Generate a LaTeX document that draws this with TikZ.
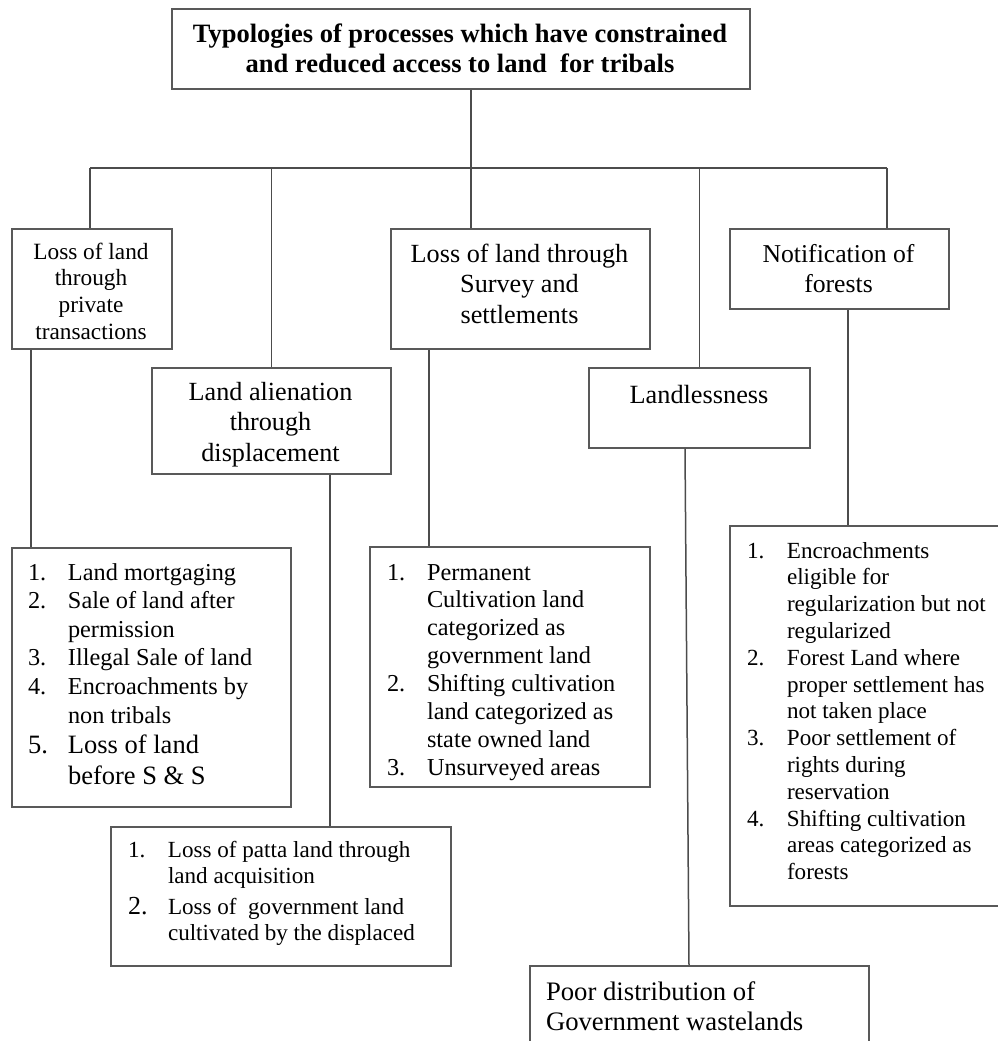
\documentclass[tikz,border=0pt]{standalone}
\usepackage{fontspec}
\setmainfont{Liberation Serif}
\newcommand\numlab[1]{\makebox[40pt][l]{#1}}
\newcommand\fs[2]{\fontsize{#1}{#2}\selectfont}
\begin{document}
\begin{tikzpicture}[x=1pt,y=-1pt,
  box/.style={draw=black!65,line width=1.6pt,fill=none,inner sep=0pt,anchor=north west},
  txt/.style={inner sep=0pt,outer sep=0pt,anchor=base},
  txtl/.style={inner sep=0pt,outer sep=0pt,anchor=base west},
  conn/.style={draw=black!70,line width=1.5pt}]
\useasboundingbox (0,0) rectangle (998,1041);
\clip (0,0) rectangle (998,1041);
\fill[white] (0,0) rectangle (998,1041);

% boxes
\node[box,minimum width=578pt,minimum height=80pt] (top) at (171,8) {};
\node[box,minimum width=160pt,minimum height=120pt] (b1) at (11,228) {};
\node[box,minimum width=239pt,minimum height=106pt] (b2) at (151,367) {};
\node[box,minimum width=259pt,minimum height=120pt] (b3) at (390,228) {};
\node[box,minimum width=221pt,minimum height=80pt] (b5) at (588,367) {};
\node[box,minimum width=219pt,minimum height=80pt] (notif) at (729,228) {};
\node[box,minimum width=279pt,minimum height=259pt] (l1) at (11,547) {};
\node[box,minimum width=340pt,minimum height=139pt] (l2) at (110,826) {};
\node[box,minimum width=280pt,minimum height=240pt] (l3) at (369,546) {};
\node[box,minimum width=290pt,minimum height=380pt] (l4) at (729,525) {};
\node[box,minimum width=339pt,minimum height=110pt] (poor) at (529,965) {};

% texts
\node[txt] (ttop) at (460,43) {\parbox[t]{578pt}{\centering\fs{26.5}{30}\bfseries
  Typologies of processes which have constrained\\and reduced access to land \ for tribals}};
\node[txt] (tb1) at (91,259) {\parbox[t]{160pt}{\centering\fs{23.3}{26.7}
  Loss of land\\through\\private\\transactions}};
\node[txt] (tb2) at (270.5,400) {\parbox[t]{239pt}{\centering\fs{26.2}{30.5}
  Land alienation\\through\\displacement}};
\node[txt] (tb3) at (519.5,262) {\parbox[t]{259pt}{\centering\fs{26.2}{30.5}
  Loss of land through\\Survey and\\settlements}};
\node[txt] (tnotif) at (838.5,262) {\parbox[t]{219pt}{\centering\fs{25.7}{30}
  Notification of\\forests}};
\node[txt] (tb5) at (699,403) {\parbox[t]{221pt}{\centering\fs{26.3}{30}
  Landlessness}};
\node[txtl] (tpoor) at (546,1000) {\parbox[t]{320pt}{\fs{26.7}{30}
  Poor distribution of\\Government wastelands}};

\node[txtl] (tl1) at (28,580) {\parbox[t]{270pt}{\fs{24.3}{28.6}
  \numlab{1.}Land mortgaging\\
  \numlab{2.}Sale of land after\\
  \hspace*{40pt}permission\\
  \numlab{3.}Illegal Sale of land\\
  \numlab{4.}Encroachments by\\
  \hspace*{40pt}non tribals\par
  \fs{26.5}{30.5}\numlab{5.}Loss of land\\
  \hspace*{40pt}before S \& S\par}};
\node[txtl] (tl2) at (128,857) {\parbox[t]{320pt}{\fs{23.1}{26}
  \numlab{1.}Loss of patta land through\\
  \hspace*{40pt}land acquisition\\[5pt]
  \numlab{{\fs{26}{26}2.}}Loss of \ government land\\
  \hspace*{40pt}cultivated by the displaced\par}};
\node[txtl] (tl3) at (387,580) {\parbox[t]{270pt}{\fs{24.3}{27.9}
  \numlab{1.}Permanent\\
  \hspace*{40pt}Cultivation land\\
  \hspace*{40pt}categorized as\\
  \hspace*{40pt}government land\\
  \numlab{2.}Shifting cultivation\\
  \hspace*{40pt}land categorized as\\
  \hspace*{40pt}state owned land\\
  \numlab{3.}Unsurveyed areas\par}};
\node[txtl] (tl4) at (747,558) {\parbox[t]{270pt}{\fs{23.1}{26.8}
  \numlab{1.}Encroachments\\
  \hspace*{40pt}eligible for\\
  \hspace*{40pt}regularization but not\\
  \hspace*{40pt}regularized\\
  \numlab{2.}Forest Land where\\
  \hspace*{40pt}proper settlement has\\
  \hspace*{40pt}not taken place\\
  \numlab{3.}Poor settlement of\\
  \hspace*{40pt}rights during\\
  \hspace*{40pt}reservation\\
  \numlab{4.}Shifting cultivation\\
  \hspace*{40pt}areas categorized as\\
  \hspace*{40pt}forests\par}};

% connectors
\coordinate (jA) at (90,168);
\coordinate (jE) at (887,168);
\coordinate (t3) at (471,0);
\coordinate (x1) at (31,0);
\coordinate (x2) at (330,0);
\coordinate (x3) at (429,0);
\coordinate (x5a) at (685,0);
\coordinate (x5b) at (689,0);
\coordinate (x4) at (848,0);
\draw[conn] (jA) -- (jE);
\draw[conn] (top.south -| t3) -- (b3.north -| t3);
\draw[conn] (jA) -- (jA |- b1.north);
\draw[conn] (b2.north |- jA) -- (b2.north);
\draw[conn] (b5.north |- jA) -- (b5.north);
\draw[conn] (jE) -- (jE |- notif.north);
\draw[conn] (b1.south -| x1) -- (l1.north -| x1);
\draw[conn] (b2.south -| x2) -- (l2.north -| x2);
\draw[conn] (b3.south -| x3) -- (l3.north -| x3);
\draw[conn] (b5.south -| x5a) -- (poor.north -| x5b);
\draw[conn] (notif.south -| x4) -- (l4.north -| x4);
\end{tikzpicture}
\end{document}
